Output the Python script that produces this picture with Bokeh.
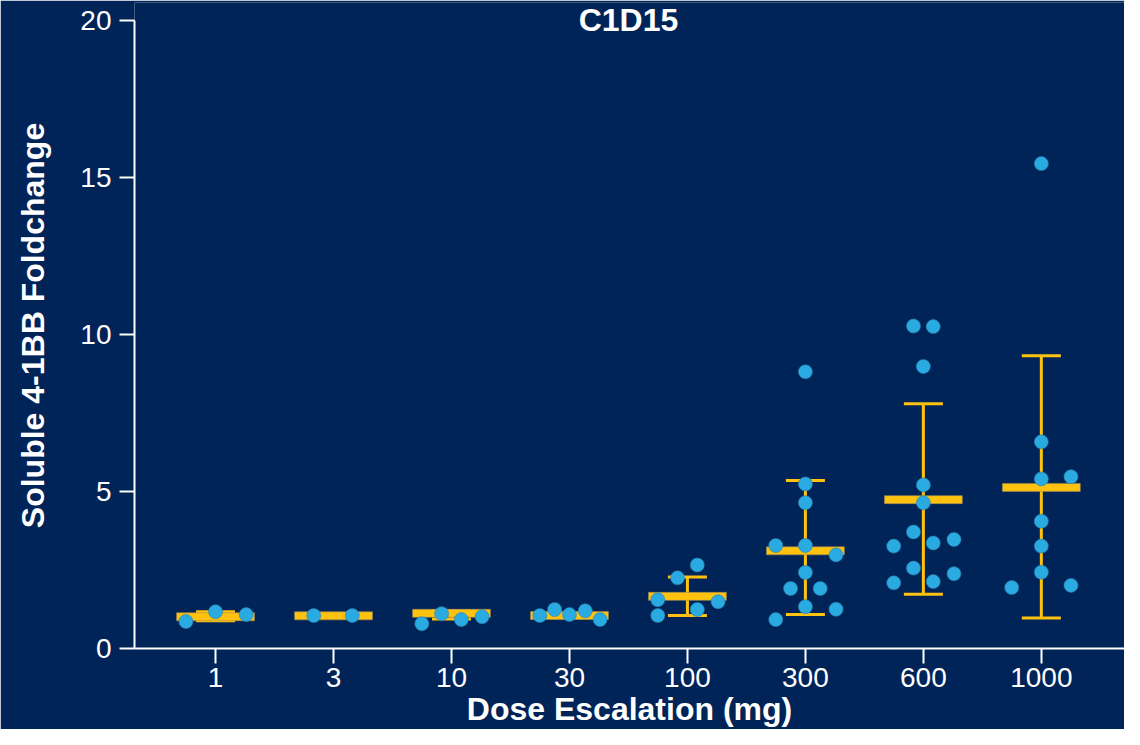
from bokeh.plotting import figure
from bokeh.models import (ColumnDataSource, Range1d, FixedTicker, Label, Whisker, TeeHead)
from bokeh.embed import file_html
from bokeh.resources import INLINE

# ---------------- data ----------------
doses = ["1", "3", "10", "30", "100", "300", "600", "1000"]
vals_1 = [0.86, 1.17, 1.08]
vals_3 = [1.05, 1.05]
vals_10 = [0.79, 1.11, 0.92, 1.01]
vals_30 = [1.05, 1.24, 1.08, 1.20, 0.92]
vals_100 = [2.66, 2.25, 1.55, 1.49, 1.24, 1.05]
vals_300 = [8.81, 5.24, 4.64, 3.28, 3.28, 2.98, 2.42, 1.91, 1.91, 1.33, 1.25, 0.92]
vals_600 = [10.27, 10.25, 8.98, 5.21, 4.64, 3.71, 3.26, 3.36, 3.47, 2.56, 2.09, 2.13, 2.38]
vals_1000 = [15.44, 6.58, 5.40, 5.47, 4.05, 3.26, 2.43, 1.94, 2.01]
means = [1.01, 1.04, 1.12, 1.05, 1.66, 3.11, 4.74, 5.13]
err_low = [0.88, 1.02, 0.94, 0.98, 1.05, 1.08, 1.73, 0.97]
err_high = [1.17, 1.06, 1.20, 1.12, 2.28, 5.35, 7.79, 9.32]
y_ticks = [0, 5, 10, 15, 20]

# ---------------- layout (beeswarm spread, px from category centre) ----------------
swarm_px = [
    [-30, 0, 31],
    [-20, 19],
    [-30, -10, 10, 31],
    [-30, -15, 0, 16, 31],
    [10, -10, -30, 31, 10, -30],
    [0, 0, 0, -30, 0, 31, 0, -15, 15, 0, 31, -30],
    [-10, 10, 0, 0, 0, -10, -30, 10, 31, -10, -30, 10, 31],
    [0, 0, 0, 30, 0, 0, 0, -30, 30],
]
CAT_PX = 119.4

BG = "#002457"
BLUE = "#29abe2"
YELLOW = "#ffc20e"
FONT = "Liberation Sans"

groups = [vals_1, vals_3, vals_10, vals_30, vals_100, vals_300, vals_600, vals_1000]
px, py = [], []
for i, (g, off) in enumerate(zip(groups, swarm_px)):
    for v, o in zip(g, off):
        px.append(i + o / CAT_PX)
        py.append(v)
pts = ColumnDataSource(dict(x=px, y=py))

idx = list(range(len(doses)))
summ = ColumnDataSource(dict(x=idx, mean=means, lo=err_low, hi=err_high))

p = figure(width=1124, height=729, output_backend="svg", toolbar_location=None,
           x_range=Range1d(-0.687, 7.705), y_range=Range1d(0, 20.57),
           min_border_left=134, min_border_right=0, min_border_top=2, min_border_bottom=0)
p.background_fill_color = BG
p.border_fill_color = BG
p.outline_line_color = None
p.grid.visible = False

# error bars
wh = Whisker(source=summ, base="x", lower="lo", upper="hi", dimension="height",
             line_color=YELLOW, line_width=3, level="underlay",
             upper_head=TeeHead(size=39, line_color=YELLOW, line_width=3),
             lower_head=TeeHead(size=39, line_color=YELLOW, line_width=3))
p.add_layout(wh)

# mean bars
p.rect(x="x", y="mean", width=0.66, height=8, height_units="screen", source=summ,
       fill_color=YELLOW, line_color="#9a8a5a", line_width=0.6)

# points
p.scatter(x="x", y="y", source=pts, size=14, fill_color=BLUE, line_color="#2a7fb0",
          line_width=0.6)

# axes
for ax in (p.xaxis[0], p.yaxis[0]):
    ax.axis_line_color = "white"
    ax.axis_line_width = 2
    ax.major_tick_line_color = "white"
    ax.major_tick_line_width = 2
    ax.major_tick_out = 15
    ax.major_tick_in = 0
    ax.minor_tick_line_color = None
    ax.major_label_text_color = "white"
    ax.major_label_text_font = FONT
    ax.major_label_text_font_size = "28px"
    ax.axis_label_text_color = "white"
    ax.axis_label_text_font = FONT
    ax.axis_label_text_font_style = "bold"
    ax.axis_label_text_font_size = "32px"

p.xaxis.ticker = FixedTicker(ticks=idx)
p.xaxis.major_label_overrides = {i: d for i, d in enumerate(doses)}
p.xaxis.axis_label = "Dose Escalation (mg)"
p.xaxis.major_label_standoff = 4
p.xaxis.axis_label_standoff = 1

p.yaxis.ticker = FixedTicker(ticks=y_ticks)
p.yaxis.bounds = (0, 20)
p.yaxis.axis_label = "Soluble 4-1BB Foldchange"
p.yaxis.major_label_standoff = 8
p.yaxis.axis_label_standoff = 26

p.add_layout(Label(x=3.5, y=20.0, text="C1D15", text_align="center", text_baseline="middle",
                   text_color="white", text_font=FONT, text_font_style="bold",
                   text_font_size="32px"))

html = file_html(p, INLINE)
html = html.replace("<body>", '<body style="background:%s">' % BG, 1)
open("out.html", "w").write(html)
